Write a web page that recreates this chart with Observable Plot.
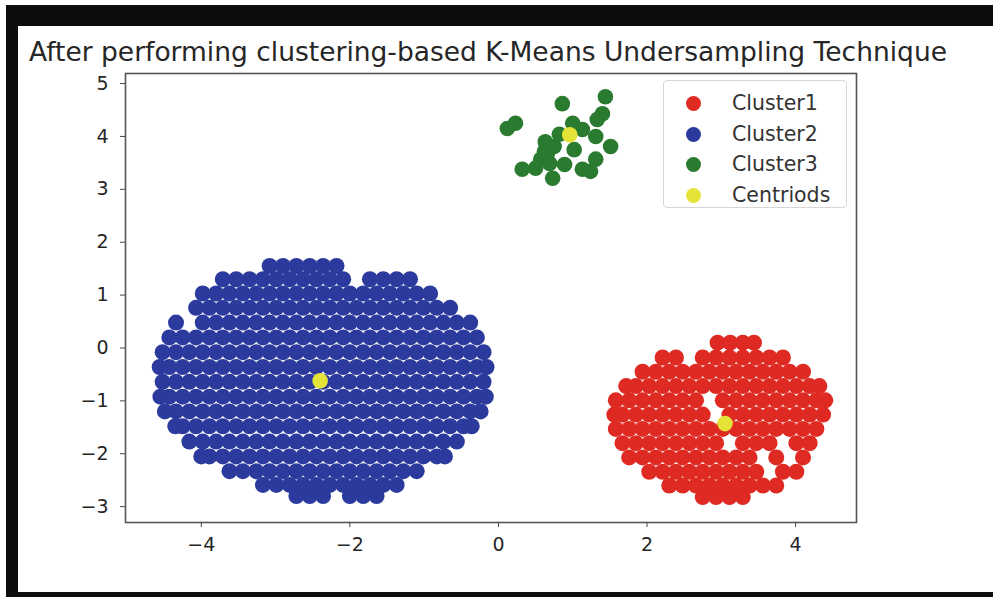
<!DOCTYPE html>
<html>
<head>
<meta charset="utf-8">
<script src="https://cdn.jsdelivr.net/npm/d3@7"></script>
<script src="https://cdn.jsdelivr.net/npm/@observablehq/plot@0.6"></script>
<style>
  html, body { margin: 0; padding: 0; background: #fff; }
  #wrap { position: relative; width: 993px; height: 597px; overflow: hidden; background: #fff; font-family: "DejaVu Sans", sans-serif; }
  #wrap svg { position: absolute; left: 0; top: 0; }
  .bar { position: absolute; background: #0d0d0d; }
  #title { position: absolute; top: 36px; left: 488px; transform: translateX(-50%); white-space: nowrap; font-size: 26.5px; color: #262626; line-height: 32px; }
  #legend { position: absolute; left: 663px; top: 80px; width: 184px; height: 128px; box-sizing: border-box; border: 1px solid #d6d6d6; border-radius: 4px; background: rgba(255,255,255,0.85); }
  .item { position: absolute; left: 0; height: 30px; line-height: 30px; font-size: 20.5px; color: #333; }
  .sw { position: absolute; left: 22px; top: 8px; width: 15px; height: 15px; border-radius: 50%; }
  .lab { position: absolute; left: 68px; top: 0; white-space: nowrap; }
</style>
</head>
<body>
<div id="wrap">
  <div id="title">After performing clustering-based K-Means Undersampling Technique</div>
</div>
<script>
// ---- data ----
const xTicks = [-4, -2, 0, 2, 4];
const yTicks = [-3, -2, -1, 0, 1, 2, 3, 4, 5];
const seriesNames = ["Cluster1", "Cluster2", "Cluster3", "Centriods"];
const seriesColors = ["#de2a22", "#2b3a9c", "#2a7a30", "#e4e438"];

// Cluster1 (red): rows of [y, x values]
const cluster1Rows = [
  [0.10, [2.95, 3.12, 3.29, 3.44]],
  [-0.18, [2.21, 2.39, 2.75, 2.93, 3.11, 3.29, 3.47, 3.65, 3.83]],
  [-0.45, [1.94, 2.12, 2.30, 2.48, 2.66, 2.84, 3.02, 3.20, 3.38, 3.56, 3.74, 3.92, 4.10]],
  [-0.72, [1.72, 1.85, 2.03, 2.21, 2.39, 2.57, 2.75, 2.93, 3.11, 3.29, 3.47, 3.65, 3.83, 4.01, 4.19, 4.32]],
  [-0.99, [1.58, 1.76, 1.94, 2.12, 2.30, 2.48, 2.66, 3.02, 3.20, 3.38, 3.56, 3.74, 3.92, 4.10, 4.28, 4.40]],
  [-1.26, [1.56, 1.67, 1.85, 2.03, 2.21, 2.39, 2.57, 2.75, 3.11, 3.29, 3.47, 3.65, 3.83, 4.01, 4.19, 4.37]],
  [-1.53, [1.58, 1.76, 1.94, 2.12, 2.30, 2.48, 2.66, 2.84, 3.02, 3.20, 3.38, 3.56, 3.74, 3.92, 4.10, 4.28]],
  [-1.80, [1.67, 1.85, 2.03, 2.21, 2.39, 2.57, 2.75, 2.93, 3.29, 3.47, 3.65, 4.01, 4.19]],
  [-2.07, [1.76, 1.94, 2.12, 2.30, 2.48, 2.66, 2.84, 3.02, 3.20, 3.38, 3.74, 4.10]],
  [-2.34, [2.03, 2.21, 2.39, 2.57, 2.75, 2.93, 3.11, 3.29, 3.47, 3.83, 4.01]],
  [-2.60, [2.30, 2.48, 2.66, 2.84, 3.02, 3.20, 3.38, 3.56, 3.74]],
  [-2.82, [2.75, 2.93, 3.11, 3.29]]
];

// Cluster2 (blue): rows of [y, x values]
const cluster2Rows = [
  [1.55, [-3.08, -2.90, -2.72, -2.54, -2.36, -2.18]],
  [1.30, [-3.71, -3.53, -3.35, -3.17, -2.99, -2.81, -2.63, -2.45, -2.27, -2.09, -1.73, -1.55, -1.37, -1.19]],
  [1.03, [-3.98, -3.80, -3.62, -3.44, -3.26, -3.08, -2.90, -2.72, -2.54, -2.36, -2.18, -2.00, -1.82, -1.64, -1.46, -1.28, -1.10, -0.92]],
  [0.76, [-4.07, -3.89, -3.71, -3.53, -3.35, -3.17, -2.99, -2.81, -2.63, -2.45, -2.27, -2.09, -1.91, -1.73, -1.55, -1.37, -1.19, -1.01, -0.83, -0.65]],
  [0.48, [-4.34, -3.98, -3.80, -3.62, -3.44, -3.26, -3.08, -2.90, -2.72, -2.54, -2.36, -2.18, -2.00, -1.82, -1.64, -1.46, -1.28, -1.10, -0.92, -0.74, -0.56, -0.38]],
  [0.20, [-4.43, -4.25, -4.07, -3.89, -3.71, -3.53, -3.35, -3.17, -2.99, -2.81, -2.63, -2.45, -2.27, -2.09, -1.91, -1.73, -1.55, -1.37, -1.19, -1.01, -0.83, -0.65, -0.47, -0.29]],
  [-0.08, [-4.52, -4.34, -4.16, -3.98, -3.80, -3.62, -3.44, -3.26, -3.08, -2.90, -2.72, -2.54, -2.36, -2.18, -2.00, -1.82, -1.64, -1.46, -1.28, -1.10, -0.92, -0.74, -0.56, -0.38, -0.20]],
  [-0.36, [-4.56, -4.43, -4.25, -4.07, -3.89, -3.71, -3.53, -3.35, -3.17, -2.99, -2.81, -2.63, -2.45, -2.27, -2.09, -1.91, -1.73, -1.55, -1.37, -1.19, -1.01, -0.83, -0.65, -0.47, -0.29, -0.16]],
  [-0.64, [-4.52, -4.34, -4.16, -3.98, -3.80, -3.62, -3.44, -3.26, -3.08, -2.90, -2.72, -2.54, -2.36, -2.18, -2.00, -1.82, -1.64, -1.46, -1.28, -1.10, -0.92, -0.74, -0.56, -0.38, -0.20]],
  [-0.92, [-4.55, -4.43, -4.25, -4.07, -3.89, -3.71, -3.53, -3.35, -3.17, -2.99, -2.81, -2.63, -2.45, -2.27, -2.09, -1.91, -1.73, -1.55, -1.37, -1.19, -1.01, -0.83, -0.65, -0.47, -0.29, -0.17]],
  [-1.20, [-4.49, -4.34, -4.16, -3.98, -3.80, -3.62, -3.44, -3.26, -3.08, -2.90, -2.72, -2.54, -2.36, -2.18, -2.00, -1.82, -1.64, -1.46, -1.28, -1.10, -0.92, -0.74, -0.56, -0.38, -0.24]],
  [-1.48, [-4.35, -4.25, -4.07, -3.89, -3.71, -3.53, -3.35, -3.17, -2.99, -2.81, -2.63, -2.45, -2.27, -2.09, -1.91, -1.73, -1.55, -1.37, -1.19, -1.01, -0.83, -0.65, -0.47, -0.36]],
  [-1.77, [-4.16, -3.98, -3.80, -3.62, -3.44, -3.26, -3.08, -2.90, -2.72, -2.54, -2.36, -2.18, -2.00, -1.82, -1.64, -1.46, -1.28, -1.10, -0.92, -0.74, -0.56]],
  [-2.05, [-4.00, -3.89, -3.71, -3.53, -3.35, -3.17, -2.99, -2.81, -2.63, -2.45, -2.27, -2.09, -1.91, -1.73, -1.55, -1.37, -1.19, -1.01, -0.83, -0.72]],
  [-2.33, [-3.62, -3.44, -3.26, -3.08, -2.90, -2.72, -2.54, -2.36, -2.18, -2.00, -1.82, -1.64, -1.46, -1.28, -1.10]],
  [-2.59, [-3.17, -2.99, -2.81, -2.63, -2.45, -2.27, -2.09, -1.91, -1.73, -1.55, -1.37]],
  [-2.80, [-2.72, -2.54, -2.36, -2.00, -1.82, -1.64]]
];

// Cluster3 (green): individual points
const cluster3X = [0.12, 0.23, 0.86, 1.44, 1.40, 1.33, 1.00, 1.13, 1.31, 1.51, 1.02, 0.63, 0.62, 0.57, 0.69, 0.32, 0.50, 0.73, 0.89, 1.13, 1.31, 1.24, 0.82, 0.75, 0.66];
const cluster3Y = [4.15, 4.25, 4.62, 4.75, 4.43, 4.32, 4.25, 4.13, 4.00, 3.81, 3.75, 3.90, 3.72, 3.57, 3.49, 3.38, 3.40, 3.21, 3.47, 3.38, 3.57, 3.34, 4.04, 3.81, 3.68];

// Centroids (yellow)
const centroidX = [3.05, -2.40, 0.96];
const centroidY = [-1.43, -0.62, 4.03];

// ---- build tables ----
const rowsToPoints = rows => rows.flatMap(([y, xs]) => xs.map(x => ({x, y})));
const c1 = rowsToPoints(cluster1Rows);
const c2 = rowsToPoints(cluster2Rows);
const c3 = cluster3X.map((x, i) => ({x, y: cluster3Y[i]}));
const cen = centroidX.map((x, i) => ({x, y: centroidY[i]}));

const chart = Plot.plot({
  width: 993,
  height: 597,
  marginLeft: 125,
  marginRight: 137,
  marginTop: 73,
  marginBottom: 75,
  style: {fontFamily: "DejaVu Sans, sans-serif", fontSize: "19px", color: "#262626", background: "transparent"},
  x: {domain: [-5.02, 4.82]},
  y: {domain: [-3.30, 5.19]},
  marks: [
    Plot.dot(c2, {x: "x", y: "y", r: 8, fill: seriesColors[1], stroke: null}),
    Plot.dot(c1, {x: "x", y: "y", r: 8, fill: seriesColors[0], stroke: null}),
    Plot.dot(c3, {x: "x", y: "y", r: 7.8, fill: seriesColors[2], stroke: null}),
    Plot.dot(cen, {x: "x", y: "y", r: 7.8, fill: seriesColors[3], stroke: null}),
    Plot.frame({stroke: "#555", strokeWidth: 1.6}),
    Plot.axisX({ticks: xTicks, tickSize: 5, tickPadding: 10, label: null, fontSize: 19, stroke: "#444"}),
    Plot.axisY({ticks: yTicks, tickSize: 5, tickPadding: 12, label: null, fontSize: 19, stroke: "#444"})
  ]
});

const wrap = document.getElementById("wrap");
wrap.insertBefore(chart, wrap.firstChild);

// picture frame (black borders of the screenshot)
[[6, 5, 987, 21], [6, 5, 12, 592], [6, 592, 987, 5]].forEach(([l, t, w, h]) => {
  const d = document.createElement("div");
  d.className = "bar";
  d.style.left = l + "px"; d.style.top = t + "px"; d.style.width = w + "px"; d.style.height = h + "px";
  wrap.appendChild(d);
});

// legend
const leg = document.createElement("div");
leg.id = "legend";
seriesNames.forEach((name, i) => {
  const it = document.createElement("div");
  it.className = "item";
  it.style.top = (7 + i * 30.5) + "px";
  it.style.width = "100%";
  const sw = document.createElement("span");
  sw.className = "sw";
  sw.style.background = seriesColors[i];
  const lab = document.createElement("span");
  lab.className = "lab";
  lab.textContent = name;
  it.appendChild(sw); it.appendChild(lab);
  leg.appendChild(it);
});
wrap.appendChild(leg);
</script>
</body>
</html>
